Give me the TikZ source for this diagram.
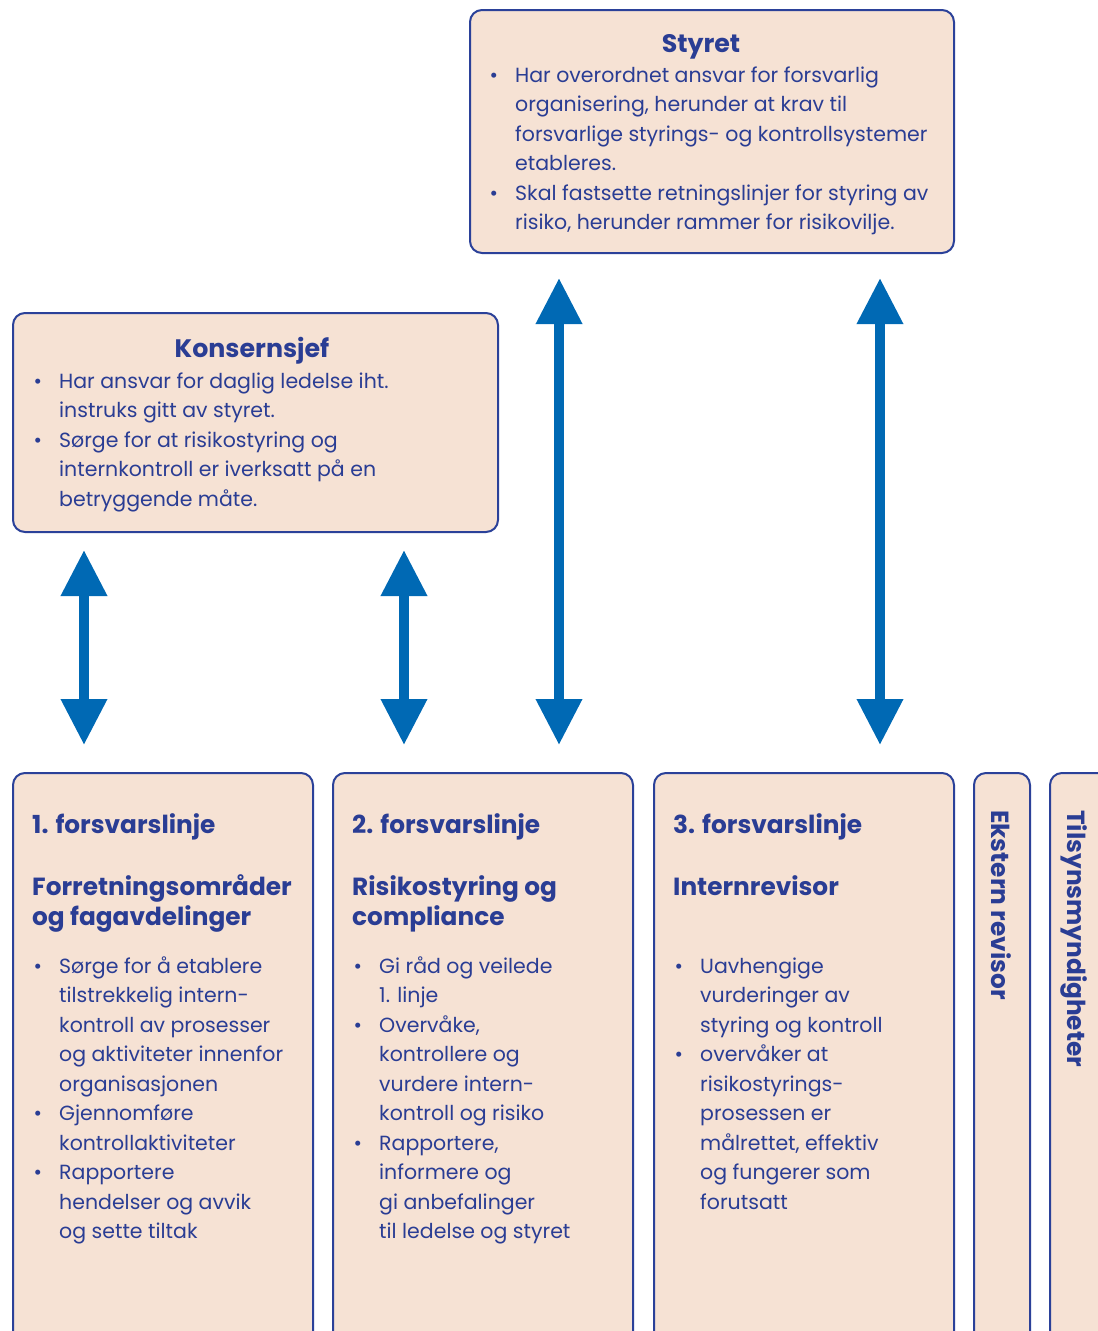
\documentclass[tikz,border=0pt]{standalone}
\usepackage{fontspec}
\setmainfont{Poppins}
\usetikzlibrary{arrows.meta}
\definecolor{boxfill}{HTML}{F6E2D4}
\definecolor{boxline}{HTML}{2B4199}
\definecolor{txt}{HTML}{2A3D94}
\definecolor{arr}{HTML}{0069B4}
\newcommand{\bul}{\makebox[26pt][l]{\hspace{0.5pt}•}}
\newcommand{\ind}{\hspace*{26pt}}
\tikzset{
 box/.style={draw=boxline, fill=boxfill, line width=2pt, rounded corners=12pt, anchor=north west, inner sep=0},
 body/.style={anchor=base west, inner sep=0, text=txt, font=\fontsize{20.5}{29.5}\selectfont},
 head/.style={anchor=base west, inner sep=0, text=txt, font=\fontsize{24.8}{30.5}\selectfont\bfseries},
 title/.style={anchor=base, inner sep=0, text=txt, font=\fontsize{25.3}{30}\selectfont\bfseries},
 bigarrow/.style={draw=arr, line width=10pt, {Triangle[width=44pt,length=46pt]}-{Triangle[width=44pt,length=46pt]}},
}
\begin{document}
\begin{tikzpicture}[x=1pt,y=-1pt]
\useasboundingbox (0,0) rectangle (1098,1331);
% boxes
\node[box, minimum width=484pt, minimum height=243pt] (st) at (469,9) {};
\node[box, minimum width=485pt, minimum height=219pt] (ks) at (12,312) {};
\node[box, minimum width=300pt, minimum height=580pt] (b1) at (12,772) {};
\node[box, minimum width=300pt, minimum height=580pt] (b2) at (332,772) {};
\node[box, minimum width=300pt, minimum height=580pt] (b3) at (653,772) {};
\node[box, minimum width=56pt, minimum height=580pt] (b4) at (973,772) {};
\node[box, minimum width=80pt, minimum height=580pt] (b5) at (1049,772) {};
% Styret
\node[title] (stt) at (701,52) {Styret};
\node[body] (stb) at (489,82) {\parbox[t]{460pt}{%
\bul Har overordnet ansvar for forsvarlig\\
\ind organisering, herunder at krav til\\
\ind forsvarlige styrings- og kontrollsystemer\\
\ind etableres.\\
\bul Skal fastsette retningslinjer for styring av\\
\ind risiko, herunder rammer for risikovilje.}};
% Konsernsjef
\node[title] (kst) at (252,357) {Konsernsjef};
\node[body] (ksb) at (33,388) {\parbox[t]{460pt}{%
\bul Har ansvar for daglig ledelse iht.\\
\ind instruks gitt av styret.\\
\bul Sørge for at risikostyring og\\
\ind internkontroll er iverksatt på en\\
\ind betryggende måte.}};
% Box 1
\node[head] (h1) at (32,833) {1. forsvarslinje};
\node[head] (s1) at (32,895) {\parbox[t]{290pt}{Forretningsområder\\og fagavdelinger}};
\node[body] (t1) at (33,973) {\parbox[t]{290pt}{%
\bul Sørge for å etablere\\
\ind tilstrekkelig intern-\\
\ind kontroll av prosesser\\
\ind og aktiviteter innenfor\\
\ind organisasjonen\\
\bul Gjennomføre\\
\ind kontrollaktiviteter\\
\bul Rapportere\\
\ind hendelser og avvik\\
\ind og sette tiltak}};
% Box 2
\node[head] (h2) at (352,833) {2. forsvarslinje};
\node[head] (s2) at (352,895) {\parbox[t]{290pt}{Risikostyring og\\compliance}};
\node[body] (t2) at (353,973) {\parbox[t]{290pt}{%
\bul Gi råd og veilede\\
\ind 1. linje\\
\bul Overvåke,\\
\ind kontrollere og\\
\ind vurdere intern-\\
\ind kontroll og risiko\\
\bul Rapportere,\\
\ind informere og\\
\ind gi anbefalinger\\
\ind til ledelse og styret}};
% Box 3
\node[head] (h3) at (673,833) {3. forsvarslinje};
\node[head] (s3) at (673,895) {Internrevisor};
\node[body] (t3) at (674,973) {\parbox[t]{290pt}{%
\bul Uavhengige\\
\ind vurderinger av\\
\ind styring og kontroll\\
\bul overvåker at\\
\ind risikostyrings-\\
\ind prosessen er\\
\ind målrettet, effektiv\\
\ind og fungerer som\\
\ind forutsatt}};
% vertical
\node[head, rotate=-90] (v4) at (991,810) {Ekstern revisor};
\node[head, rotate=-90] (v5) at (1067,810) {Tilsynsmyndigheter};
% arrows
\coordinate (a1) at (84,0);
\coordinate (a2) at (404,0);
\coordinate (a3) at (559,0);
\coordinate (a4) at (880,0);
\draw[bigarrow, shorten <=17pt, shorten >=27pt] (ks.south -| a1) -- (b1.north -| a1);
\draw[bigarrow, shorten <=17pt, shorten >=27pt] (ks.south -| a2) -- (b2.north -| a2);
\draw[bigarrow, shorten <=24pt, shorten >=27pt] (st.south -| a3) -- (b2.north -| a3);
\draw[bigarrow, shorten <=24pt, shorten >=27pt] (st.south -| a4) -- (b3.north -| a4);
\end{tikzpicture}
\end{document}
